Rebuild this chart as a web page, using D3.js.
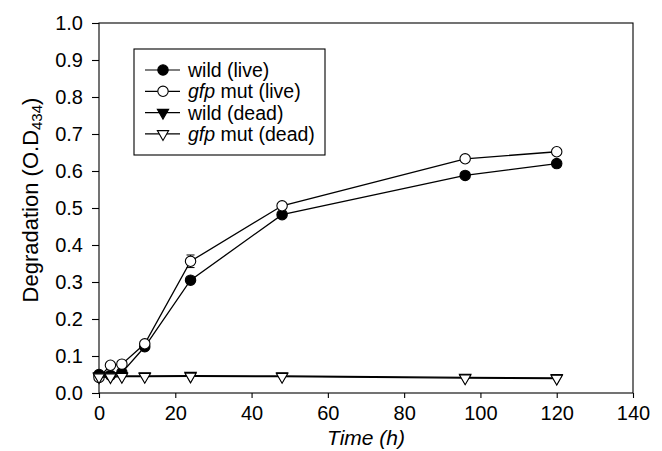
<!DOCTYPE html>
<html>
<head>
<meta charset="utf-8">
<script src="https://cdn.jsdelivr.net/npm/d3@7"></script>
<style>
  body { margin: 0; background: #fff; }
  svg { font-family: "Liberation Sans", Arial, sans-serif; }
</style>
</head>
<body>
<div id="chart"></div>
<script>
// values
var times = [0, 3, 6, 12, 24, 48, 96, 120];
var wildLive = [0.050, 0.048, 0.055, 0.125, 0.305, 0.482, 0.588, 0.620];
var gfpLive = [0.042, 0.075, 0.078, 0.133, 0.356, 0.506, 0.633, 0.652];
var gfpLiveErr = [0, 0, 0, 0, 0.017, 0, 0, 0];
var wildDead = [0.046, 0.046, 0.046, 0.046, 0.047, 0.046, 0.042, 0.041];
var gfpDead = [0.043, 0.043, 0.044, 0.044, 0.045, 0.044, 0.040, 0.039];
var xTicks = [0, 20, 40, 60, 80, 100, 120, 140];
var yTicks = [0, 0.1, 0.2, 0.3, 0.4, 0.5, 0.6, 0.7, 0.8, 0.9, 1.0];

var series = [
    {name: 'wild (live)', italic: '', values: wildLive, err: null, shape: 'circle', fill: '#000'},
    {name: ' mut (live)', italic: 'gfp', values: gfpLive, err: gfpLiveErr, shape: 'circle', fill: '#fff'},
    {name: 'wild (dead)', italic: '', values: wildDead, err: null, shape: 'triangle', fill: '#000'},
    {name: ' mut (dead)', italic: 'gfp', values: gfpDead, err: null, shape: 'triangle', fill: '#fff'}
];

var margin = {top: 23, right: 29, bottom: 58, left: 99},
    width = 662 - margin.left - margin.right,
    height = 451 - margin.top - margin.bottom;

var svg = d3.select('#chart')
    .append('svg')
    .attr('width', 662)
    .attr('height', 451)
    .append('g')
    .attr('transform', 'translate(' + margin.left + ',' + margin.top + ')');

var x = d3.scaleLinear().domain([0, 140]).range([0, width]);
var y = d3.scaleLinear().domain([0, 1]).range([height, 0]);

// frame
svg.append('rect')
    .attr('width', width)
    .attr('height', height)
    .attr('fill', 'none')
    .attr('stroke', '#000')
    .attr('stroke-width', 1.1);

var xAxis = svg.append('g')
    .attr('transform', 'translate(0,' + height + ')')
    .call(d3.axisBottom(x).tickValues(xTicks).tickSize(5).tickPadding(8)
        .tickFormat(d3.format('d')));

var yAxis = svg.append('g')
    .call(d3.axisLeft(y).tickValues(yTicks).tickSize(7).tickPadding(9)
        .tickFormat(d3.format('.1f')));

[xAxis, yAxis].forEach(function(a){
    a.select('.domain').remove();
    a.selectAll('line').attr('stroke', '#000').attr('stroke-width', 1.1);
    a.selectAll('text')
        .attr('fill', '#000')
        .style('font-size', '20px')
        .style('font-family', '"Liberation Sans", Arial, sans-serif');
});

// axis titles
svg.append('text')
    .attr('x', width / 2)
    .attr('y', height + 52)
    .attr('text-anchor', 'middle')
    .style('font-size', '21px')
    .style('font-style', 'italic')
    .text('Time (h)');

var yTitle = svg.append('text')
    .attr('transform', 'translate(' + (-61.5) + ',' + 177 + ') rotate(-90)')
    .attr('text-anchor', 'middle')
    .style('font-size', '22px');
yTitle.append('tspan').text('Degradation (O.D');
yTitle.append('tspan').attr('baseline-shift', '-25%').style('font-size', '15px').text('434');
yTitle.append('tspan').text(')');

function marker(shape){
    if(shape == 'circle'){
        return d3.symbol().type(d3.symbolCircle).size(85)();
    }
    return d3.symbol().type(d3.symbolTriangle).size(55)();
}

var line = d3.line()
    .x(function(d){ return x(d.t); })
    .y(function(d){ return y(d.v); });

series.forEach(function(s){
    var pts = times.map(function(t, i){
        return {t: t, v: s.values[i], e: s.err ? s.err[i] : 0};
    });

    svg.append('path')
        .datum(pts)
        .attr('d', line)
        .attr('fill', 'none')
        .attr('stroke', '#000')
        .attr('stroke-width', 1.3);

    // error bars
    var eb = svg.append('g');
    pts.filter(function(d){ return d.e > 0; }).forEach(function(d){
        eb.append('line')
            .attr('x1', x(d.t)).attr('x2', x(d.t))
            .attr('y1', y(d.v - d.e)).attr('y2', y(d.v + d.e))
            .attr('stroke', '#000');
        [d.v - d.e, d.v + d.e].forEach(function(v){
            eb.append('line')
                .attr('x1', x(d.t) - 4).attr('x2', x(d.t) + 4)
                .attr('y1', y(v)).attr('y2', y(v))
                .attr('stroke', '#000');
        });
    });

    svg.append('g')
        .selectAll('path')
        .data(pts)
        .enter().append('path')
        .attr('d', marker(s.shape))
        .attr('transform', function(d){
            var tr = 'translate(' + x(d.t) + ',' + y(d.v) + ')';
            return s.shape == 'triangle' ? tr + ' rotate(180)' : tr;
        })
        .attr('fill', s.fill)
        .attr('stroke', '#000')
        .attr('stroke-width', 1.1);
});

// legend
var legend = svg.append('g')
    .attr('transform', 'translate(' + (134 - margin.left) + ',' + (49 - margin.top) + ')');

legend.append('rect')
    .attr('width', 191)
    .attr('height', 106)
    .attr('fill', '#fff')
    .attr('stroke', '#000')
    .attr('stroke-width', 1.1);

series.forEach(function(s, i){
    var row = legend.append('g')
        .attr('transform', 'translate(0,' + (21 + i * 21.3) + ')');
    row.append('line')
        .attr('x1', 11).attr('x2', 46)
        .attr('stroke', '#000')
        .attr('stroke-width', 1.2);
    row.append('path')
        .attr('d', marker(s.shape))
        .attr('transform', 'translate(29,0)' + (s.shape == 'triangle' ? ' rotate(180)' : ''))
        .attr('fill', s.fill)
        .attr('stroke', '#000')
        .attr('stroke-width', 1.1);
    var label = row.append('text')
        .attr('x', 54)
        .attr('y', 7)
        .style('font-size', '19.5px');
    if(s.italic){
        label.append('tspan').style('font-style', 'italic').text(s.italic);
    }
    label.append('tspan').text(s.name);
});
</script>
</body>
</html>
